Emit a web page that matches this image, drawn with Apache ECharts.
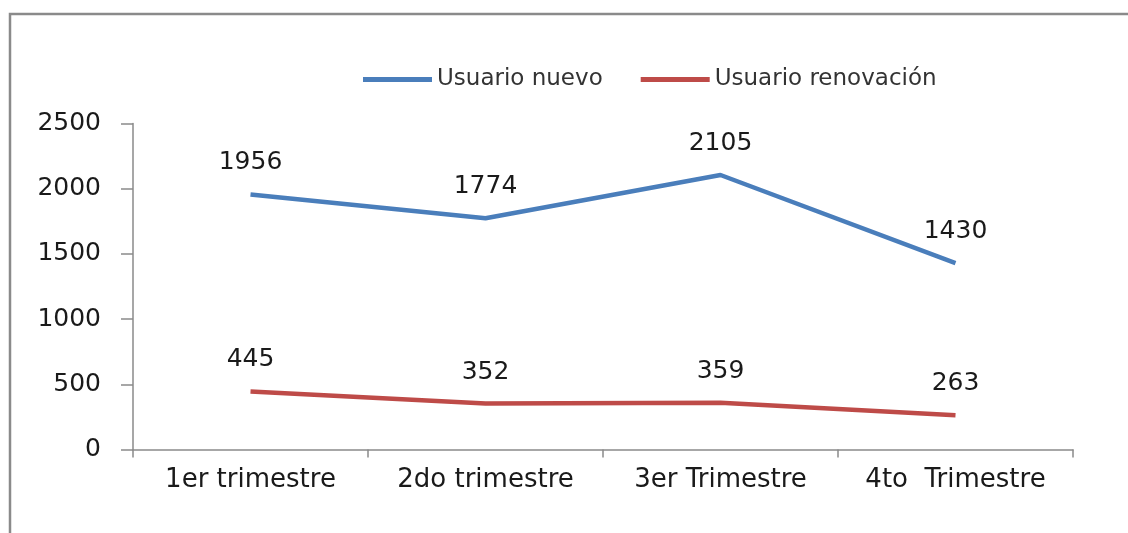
<!DOCTYPE html>
<html>
<head>
<meta charset="utf-8">
<script src="https://cdn.jsdelivr.net/npm/echarts@6/dist/echarts.min.js"></script>
<style>html,body{margin:0;padding:0;background:#fff;}#c{width:1128px;height:533px;}</style>
</head>
<body>
<div id="c"></div>
<script>
var categories = ['1er trimestre', '2do trimestre', '3er Trimestre', '4to  Trimestre'];
var usuarioNuevo = [1956, 1774, 2105, 1430];
var usuarioRenovacion = [445, 352, 359, 263];
var seriesNames = ['Usuario nuevo', 'Usuario renovación'];

var chart = echarts.init(document.getElementById('c'));
var labelStyle = {show: true, position: 'top', distance: 19, fontFamily: 'DejaVu Sans', fontSize: 25, color: '#1a1a1a'};
chart.setOption({
  animation: false,
  backgroundColor: '#fff',
  graphic: [{type: 'rect', shape: {x: 10, y: 14, width: 1300, height: 700}, style: {fill: 'none', stroke: '#8a8a8a', lineWidth: 2.5}, silent: true}],
  legend: {
    left: 358, top: 63, itemWidth: 69, itemHeight: 5, itemGap: 38,
    icon: 'rect',
    textStyle: {fontFamily: 'DejaVu Sans', fontSize: 23, color: '#333'},
    data: seriesNames
  },
  grid: {left: 133, right: 55, top: 123.5, bottom: 83.5, containLabel: false},
  xAxis: {
    type: 'category', data: categories, boundaryGap: true,
    axisLine: {show: true, lineStyle: {color: '#8a8a8a', width: 1.5}},
    axisTick: {show: true, length: 8, alignWithLabel: false, lineStyle: {color: '#8a8a8a', width: 1.5}},
    axisLabel: {margin: 18, fontFamily: 'DejaVu Sans', fontSize: 26, color: '#1a1a1a'}
  },
  yAxis: {
    type: 'value', min: 0, max: 2500, interval: 500,
    axisLine: {show: true, lineStyle: {color: '#8a8a8a', width: 1.5}},
    axisTick: {show: true, inside: false, length: 12, lineStyle: {color: '#8a8a8a', width: 1.5}},
    splitLine: {show: false},
    axisLabel: {margin: 32, fontFamily: 'DejaVu Sans', fontSize: 25, color: '#1a1a1a', formatter: function (v) { return String(v); }}
  },
  series: [
    {name: seriesNames[0], type: 'line', data: usuarioNuevo, symbol: 'circle', symbolSize: 0, showSymbol: true, color: '#4a7ebb',
     lineStyle: {width: 4.5, color: '#4a7ebb'}, label: labelStyle, labelLayout: {hideOverlap: false}},
    {name: seriesNames[1], type: 'line', data: usuarioRenovacion, symbol: 'circle', symbolSize: 0, showSymbol: true, color: '#be4b48',
     lineStyle: {width: 4.5, color: '#be4b48'}, label: labelStyle, labelLayout: {hideOverlap: false}}
  ]
});
</script>
</body>
</html>
